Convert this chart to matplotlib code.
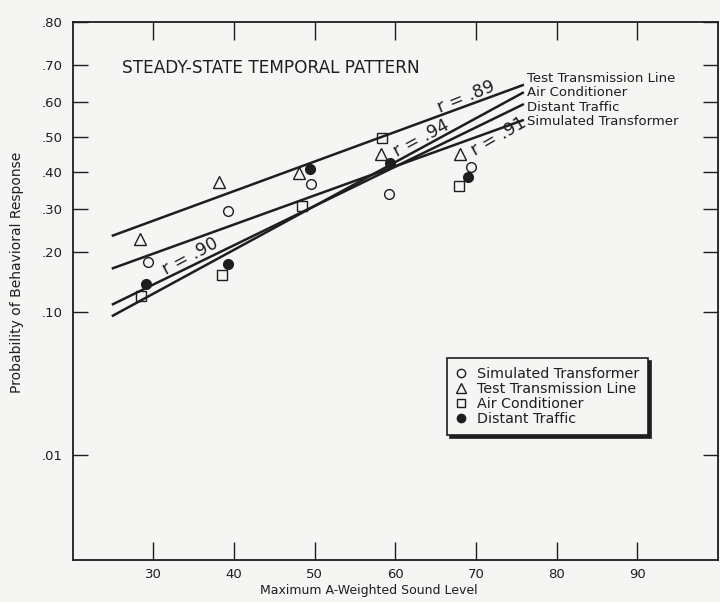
import numpy as np
import matplotlib
matplotlib.use("Agg")
import matplotlib.pyplot as plt
from matplotlib.lines import Line2D
from matplotlib.ticker import FixedLocator, FixedFormatter, NullLocator
from statistics import NormalDist

# probability points (x = max A-weighted level, y = probability)
levels_st = [29.3, 39.3, 49.6, 59.2, 69.4]
prob_st = [0.18, 0.295, 0.367, 0.34, 0.413]
levels_ttl = [28.3, 38.1, 48.1, 58.2, 68.0]
prob_ttl = [0.228, 0.372, 0.397, 0.45, 0.45]
levels_ac = [28.5, 38.5, 48.4, 58.4, 67.9]
prob_ac = [0.123, 0.157, 0.307, 0.497, 0.36]
levels_dt = [29.1, 39.3, 49.4, 59.4, 69.0]
prob_dt = [0.141, 0.176, 0.407, 0.426, 0.385]

# regression lines (end points)
fit_x = [25.0, 75.8]
fit_ttl = [0.236, 0.648]
fit_ac = [0.096, 0.627]
fit_dt = [0.111, 0.594]
fit_st = [0.169, 0.549]

yticks = [0.80, 0.70, 0.60, 0.50, 0.40, 0.30, 0.20, 0.10, 0.01]
ytick_labels = [".80", ".70", ".60", ".50", ".40", ".30", ".20", ".10", ".01"]
xticks = [30, 40, 50, 60, 70, 80, 90]

_nd = NormalDist()
_ppf = np.vectorize(_nd.inv_cdf, otypes=[float])
_cdf = np.vectorize(_nd.cdf, otypes=[float])


def probit(p):
    p = np.clip(np.asarray(p, dtype=float), 1e-9, 1 - 1e-9)
    return _ppf(p)


def probit_inv(z):
    return _cdf(np.asarray(z, dtype=float))


bg = "#f5f5f3"
ink = "#1e1e1e"
plt.rcParams["font.family"] = ["DejaVu Sans"]

fig = plt.figure(figsize=(7.2, 6.02), dpi=100, facecolor=bg)
ax = fig.add_axes([0.1008, 0.0698, 0.8964, 0.8937], facecolor=bg)
ax.set_yscale("function", functions=(probit, probit_inv))
ax.set_xlim(20, 100)
ax.set_ylim(0.001, 0.80)

lw = 1.8
ax.plot(fit_x, fit_ttl, color=ink, lw=lw)
ax.plot(fit_x, fit_ac, color=ink, lw=lw)
ax.plot(fit_x, fit_dt, color=ink, lw=lw)
ax.plot(fit_x, fit_st, color=ink, lw=lw)

ms = 7
ax.plot(levels_st, prob_st, "o", ms=ms, mfc="none", mec=ink, mew=1.0)
ax.plot(levels_ttl, prob_ttl, "^", ms=ms + 1, mfc="none", mec=ink, mew=1.0)
ax.plot(levels_ac, prob_ac, "s", ms=ms, mfc="none", mec=ink, mew=1.0)
ax.plot(levels_dt, prob_dt, "o", ms=ms, mfc=ink, mec=ink, mew=1.0)

ax.yaxis.set_major_locator(FixedLocator(yticks))
ax.yaxis.set_major_formatter(FixedFormatter(ytick_labels))
ax.yaxis.set_minor_locator(NullLocator())
ax.set_xticks(xticks)
ax.xaxis.set_minor_locator(NullLocator())

ax.tick_params(axis="y", which="major", direction="in", length=11, width=1.0,
               right=True, labelsize=9.5, pad=7, colors=ink)
ax.tick_params(axis="x", which="major", direction="in", length=13, width=1.0,
               top=True, labelsize=9.5, pad=6, colors=ink)
for s in ax.spines.values():
    s.set_linewidth(1.3)
    s.set_color(ink)

ax.set_xlabel("Maximum A-Weighted Sound Level", fontsize=9, color=ink)
ax.xaxis.set_label_coords(0.459, -0.045)
ax.set_ylabel("Probability of Behavioral Response", fontsize=10, color=ink)
ax.yaxis.set_label_coords(-0.076, 0.535)

ax.text(0.076, 0.914, "STEADY-STATE TEMPORAL PATTERN", transform=ax.transAxes,
        fontsize=12.2, color=ink, va="center", ha="left")

# line names at the right end of each line
name_size = 9.5
ax.text(0.7036, 0.8954, "Test Transmission Line", transform=ax.transAxes,
        fontsize=name_size, color=ink, va="center")
ax.text(0.7036, 0.8684, "Air Conditioner", transform=ax.transAxes,
        fontsize=name_size, color=ink, va="center")
ax.text(0.7036, 0.8414, "Distant Traffic", transform=ax.transAxes,
        fontsize=name_size, color=ink, va="center")
ax.text(0.7036, 0.8144, "Simulated Transformer", transform=ax.transAxes,
        fontsize=name_size, color=ink, va="center")

# correlation notes along the lines
r_size = 12.5
ax.text(0.6106, 0.861, "r = .89", transform=ax.transAxes, fontsize=r_size, color=ink,
        rotation=22, ha="center", va="center")
ax.text(0.5409, 0.7838, "r = .94", transform=ax.transAxes, fontsize=r_size, color=ink,
        rotation=28, ha="center", va="center")
ax.text(0.6596, 0.7868, "r = .91", transform=ax.transAxes, fontsize=r_size, color=ink,
        rotation=30, ha="center", va="center")
ax.text(0.1819, 0.5638, "r = .90", transform=ax.transAxes, fontsize=r_size, color=ink,
        rotation=28, ha="center", va="center")

handles = [
    Line2D([], [], ls="none", marker="o", ms=6, mfc="none", mec=ink),
    Line2D([], [], ls="none", marker="^", ms=7, mfc="none", mec=ink),
    Line2D([], [], ls="none", marker="s", ms=6, mfc="none", mec=ink),
    Line2D([], [], ls="none", marker="o", ms=6, mfc=ink, mec=ink),
]
names = ["Simulated Transformer", "Test Transmission Line", "Air Conditioner", "Distant Traffic"]
leg = ax.legend(handles, names, loc="upper left", bbox_to_anchor=(0.58, 0.375),
                borderaxespad=0, fontsize=10.3, frameon=True, fancybox=False,
                handlelength=0.8, handletextpad=0.7, labelspacing=0.08,
                borderpad=0.6, shadow={"color": ink, "alpha": 1.0})
leg.get_frame().set_edgecolor(ink)
leg.get_frame().set_facecolor(bg)
leg.get_frame().set_linewidth(1.2)
for t in leg.get_texts():
    t.set_color(ink)

fig.savefig("out.png", dpi=100, facecolor=bg)
